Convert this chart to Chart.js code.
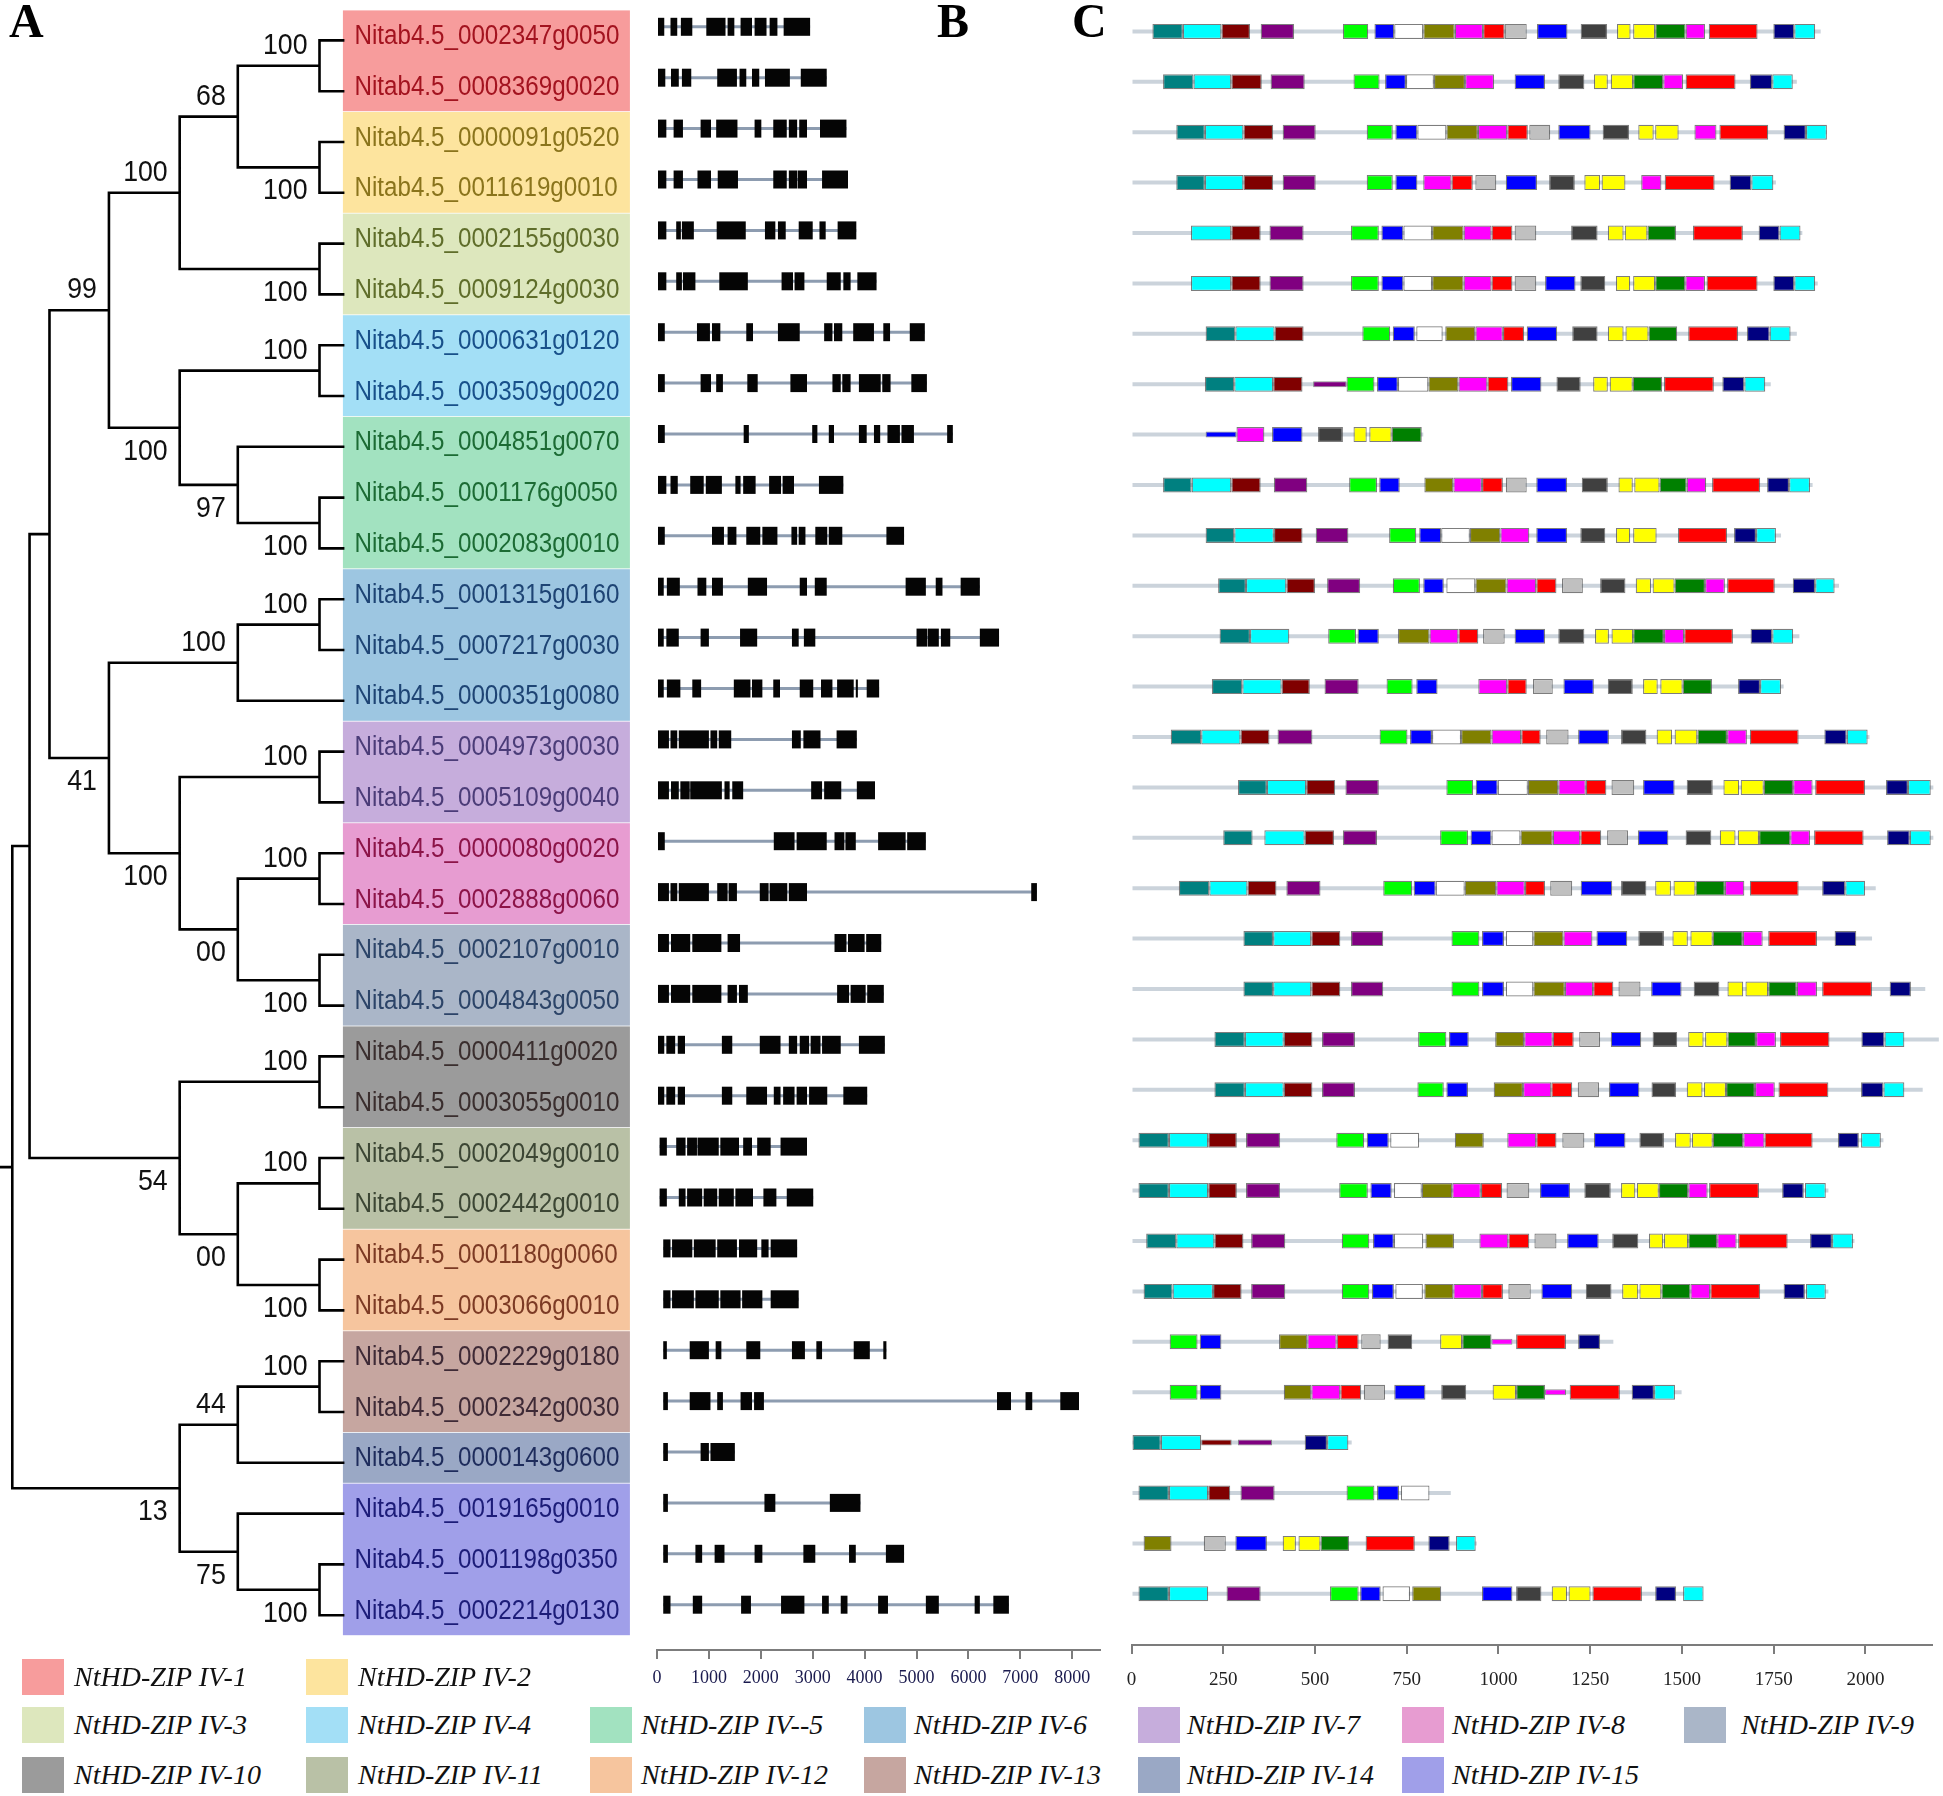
<!DOCTYPE html>
<html>
<head>
<meta charset="utf-8">
<script src="https://cdn.jsdelivr.net/npm/chart.js@4.4.0/dist/chart.umd.min.js"></script>
<style>
  html, body { margin: 0; padding: 0; background: #fff; }
  #page { position: relative; width: 1943px; height: 1796px; overflow: hidden; background: #fff; }
  canvas { position: absolute; }
  .panel { position: absolute; top: -3px; font-family: 'Liberation Serif', 'Times New Roman', serif; font-weight: bold; font-size: 48px; line-height: 1; color: #000; }
  .sw { position: absolute; width: 42px; height: 36px; }
  .lg { position: absolute; font-family: 'Liberation Serif', 'Times New Roman', serif; font-style: italic; font-size: 28px; line-height: 28px; color: #111; white-space: nowrap; }
</style>
</head>
<body>
<div id="page">
  <canvas id="treeChart" width="640" height="1660" style="left:0;top:0"></canvas>
  <canvas id="geneChart" width="480" height="1700" style="left:640px;top:0"></canvas>
  <canvas id="motifChart" width="833" height="1695" style="left:1110px;top:0"></canvas>
  <div class="panel" style="left:9px">A</div>
  <div class="panel" style="left:937px">B</div>
  <div class="panel" style="left:1072px">C</div>
</div>
<script>
// ---- data ----
const geneNames = [
  'Nitab4.5_0002347g0050', 'Nitab4.5_0008369g0020', 'Nitab4.5_0000091g0520', 'Nitab4.5_0011619g0010',
  'Nitab4.5_0002155g0030', 'Nitab4.5_0009124g0030', 'Nitab4.5_0000631g0120', 'Nitab4.5_0003509g0020',
  'Nitab4.5_0004851g0070', 'Nitab4.5_0001176g0050', 'Nitab4.5_0002083g0010', 'Nitab4.5_0001315g0160',
  'Nitab4.5_0007217g0030', 'Nitab4.5_0000351g0080', 'Nitab4.5_0004973g0030', 'Nitab4.5_0005109g0040',
  'Nitab4.5_0000080g0020', 'Nitab4.5_0002888g0060', 'Nitab4.5_0002107g0010', 'Nitab4.5_0004843g0050',
  'Nitab4.5_0000411g0020', 'Nitab4.5_0003055g0010', 'Nitab4.5_0002049g0010', 'Nitab4.5_0002442g0010',
  'Nitab4.5_0001180g0060', 'Nitab4.5_0003066g0010', 'Nitab4.5_0002229g0180', 'Nitab4.5_0002342g0030',
  'Nitab4.5_0000143g0600', 'Nitab4.5_0019165g0010', 'Nitab4.5_0001198g0350', 'Nitab4.5_0002214g0130'
];
const rowGroup = [0,0,1,1,2,2,3,3,4,4,4,5,5,5,6,6,7,7,8,8,9,9,10,10,11,11,12,12,13,14,14,14];

const groupNames = ['NtHD-ZIP IV-1', 'NtHD-ZIP IV-2', 'NtHD-ZIP IV-3', 'NtHD-ZIP IV-4', 'NtHD-ZIP IV--5',
  'NtHD-ZIP IV-6', 'NtHD-ZIP IV-7', 'NtHD-ZIP IV-8', 'NtHD-ZIP IV-9', 'NtHD-ZIP IV-10', 'NtHD-ZIP IV-11',
  'NtHD-ZIP IV-12', 'NtHD-ZIP IV-13', 'NtHD-ZIP IV-14', 'NtHD-ZIP IV-15'];
const groupFill = ['#f79c9c', '#fde49e', '#dde7bd', '#a3dff6', '#a2e2c0', '#9dc6e1', '#c6addc', '#e79cd1',
  '#aab6c8', '#9b9b9b', '#b9c1a6', '#f6c59e', '#c6a6a0', '#9aa8c5', '#a09fe9'];
const groupText = ['#a3131f', '#8a741c', '#5f6d2a', '#18508a', '#1c6b34', '#1e4474', '#4b3c78', '#8c1448',
  '#2c4468', '#3a2e2e', '#3c4634', '#7c3a24', '#3e2a36', '#1e2c5c', '#1c1c78'];

// tree: [support, depth, child, child], leaves are row numbers
const tree = [null, 0,
  [null, 5.2,
    [null, 11.2,
      ['99', 29.1,
        ['100', 50.4,
          ['68', 67.9, ['100', 92.5, 0, 1], ['100', 92.5, 2, 3]],
          ['100', 92.5, 4, 5]],
        ['100', 50.4,
          ['100', 92.5, 6, 7],
          ['97', 67.9, 8, ['100', 92.5, 9, 10]]]],
      ['41', 29.1,
        ['100', 67.9, ['100', 92.5, 11, 12], 13],
        ['100', 50.4,
          ['100', 92.5, 14, 15],
          ['00', 67.9, ['100', 92.5, 16, 17], ['100', 92.5, 18, 19]]]]],
    ['54', 50.4,
      ['100', 92.5, 20, 21],
      ['00', 67.9, ['100', 92.5, 22, 23], ['100', 92.5, 24, 25]]]],
  ['13', 50.4,
    ['44', 67.9, ['100', 92.5, 26, 27], 28],
    ['75', 67.9, 29, ['100', 92.5, 30, 31]]]];
const leafDepth = 100;
const rootStub = -3.7;

// gene structure (bp), exons per gene
const geneExons = [
  [[0,140],[260,390],[460,680],[950,1320],[1360,1490],[1610,1830],[1880,2110],[2170,2320],[2440,2950]],
  [[0,160],[270,420],[480,660],[1160,1540],[1590,1720],[1830,1970],[2080,2560],[2770,3270]],
  [[0,180],[320,500],[840,1040],[1140,1550],[1880,2010],[2240,2500],[2540,2700],[2740,2890],[3140,3650]],
  [[0,180],[320,500],[780,1040],[1170,1560],[2240,2500],[2540,2700],[2710,2890],[3180,3680]],
  [[0,180],[370,460],[480,710],[1150,1710],[2080,2280],[2330,2480],[2730,3000],[3130,3250],[3480,3840]],
  [[0,180],[370,480],[500,740],[1200,1750],[2400,2620],[2650,2840],[3270,3540],[3590,3730],[3860,4230]],
  [[0,150],[770,1020],[1060,1220],[1720,1850],[2330,2750],[3220,3380],[3410,3570],[3780,4180],[4360,4490],[4870,5160]],
  [[0,150],[840,1040],[1140,1270],[1740,1940],[2570,2890],[3380,3540],[3570,3730],[3890,4310],[4340,4500],[4900,5200]],
  [[0,150],[1670,1770],[2990,3090],[3310,3410],[3890,4040],[4180,4300],[4440,4680],[4710,4950],[5590,5700]],
  [[0,180],[260,400],[640,900],[940,1250],[1510,1610],[1660,1900],[2160,2390],[2420,2640],[3120,3590]],
  [[0,150],[1060,1290],[1360,1530],[1720,1990],[2030,2320],[2590,2700],[2730,2860],[3050,3280],[3310,3570],[4420,4760]],
  [[0,130],[190,440],[780,950],[1060,1270],[1750,2120],[2750,2890],[3040,3270],[4790,5180],[5370,5500],[5850,6220]],
  [[0,130],[180,420],[840,1000],[1600,1930],[2600,2730],[2830,3050],[5000,5210],[5220,5430],[5470,5650],[6220,6590]],
  [[0,130],[190,450],[680,850],[1480,1800],[1830,2030],[2240,2370],[2750,3010],[3160,3380],[3470,3790],[3830,3870],[4040,4280]],
  [[0,230],[260,390],[420,1000],[1030,1160],[1190,1430],[2600,2770],[2820,3150],[3460,3850]],
  [[0,230],[270,420],[450,630],[640,1250],[1300,1400],[1450,1660],[2970,3180],[3220,3550],[3850,4200]],
  [[0,150],[2250,2650],[2690,3270],[3420,3610],[3630,3830],[4260,4790],[4820,5180]],
  [[0,230],[260,390],[420,1000],[1160,1360],[1380,1540],[1980,2150],[2170,2510],[2540,2890],[7210,7320]],
  [[0,230],[270,640],[680,1240],[1360,1600],[3420,3650],[3680,4000],[4030,4320]],
  [[0,230],[270,640],[680,1240],[1360,1540],[1580,1750],[3470,3700],[3730,4020],[4050,4370]],
  [[0,140],[180,350],[400,540],[1250,1450],[1980,2380],[2540,2700],[2750,2930],[2960,3150],[3180,3540],[3890,4390]],
  [[0,140],[180,350],[400,540],[1250,1450],[1720,2120],[2250,2380],[2430,2650],[2690,2890],[2930,3280],[3590,4050]],
  [[50,190],[370,550],[580,770],[780,1190],[1220,1580],[1660,1830],[1930,2190],[2380,2890]],
  [[50,190],[420,550],[580,870],[900,1160],[1190,1480],[1510,1850],[2050,2300],[2500,3010]],
  [[120,260],[290,680],[710,1130],[1160,1540],[1580,1930],[2010,2150],[2190,2700]],
  [[120,260],[290,710],[740,1190],[1220,1610],[1640,2030],[2190,2730]],
  [[120,190],[630,1000],[1130,1240],[1720,1990],[2600,2850],[3070,3180],[3790,4100],[4360,4420]],
  [[120,210],[630,1030],[1160,1270],[1610,1830],[1870,2060],[6550,6820],[7100,7230],[7770,8130]],
  [[120,210],[840,1000],[1030,1500]],
  [[120,210],[2070,2280],[3330,3920]],
  [[120,210],[740,870],[1110,1300],[1880,2030],[2820,3050],[3700,3830],[4410,4760]],
  [[120,260],[690,870],[1620,1810],[2390,2840],[3180,3310],[3540,3670],[4260,4450],[5180,5430],[6120,6220],[6480,6780]]
];
const geneTicks = [0, 1000, 2000, 3000, 4000, 5000, 6000, 7000, 8000];
const geneAxisMax = 8535;

// conserved motifs (aa); lower-case key = narrow segment
const motifColor = { T: '#008080', C: '#00ffff', M: '#800000', P: '#800080', G: '#00ff00', B: '#0000ff',
  W: '#ffffff', O: '#808000', K: '#ff00ff', R: '#ff0000', S: '#c0c0c0', D: '#404040', Y: '#ffff00',
  E: '#008000', N: '#000080' };
const protLen = [1878,1813,1895,1756,1828,1870,1813,1742,795,1856,1770,1928,1820,1777,2011,2185,
  2185,2028,2018,2163,2200,2156,2049,1899,1970,1899,1313,1499,600,870,941,1556];
const motifRows = [
  [[57,140,'T'],[140,245,'C'],[245,323,'M'],[352,443,'P'],[576,645,'G'],[662,716,'B'],[716,795,'W'],[795,881,'O'],[881,958,'K'],[958,1017,'R'],[1017,1077,'S'],[1105,1188,'B'],[1224,1296,'D'],[1323,1360,'Y'],[1367,1427,'Y'],[1427,1510,'E'],[1510,1563,'K'],[1573,1706,'R'],[1749,1806,'N'],[1806,1863,'C']],
  [[86,169,'T'],[169,272,'C'],[272,355,'M'],[379,472,'P'],[605,676,'G'],[691,748,'B'],[748,824,'W'],[824,909,'O'],[909,988,'K'],[1044,1127,'B'],[1163,1234,'D'],[1260,1298,'Y'],[1306,1367,'Y'],[1367,1449,'E'],[1449,1503,'K'],[1510,1646,'R'],[1685,1746,'N'],[1746,1802,'C']],
  [[122,200,'T'],[200,305,'C'],[305,386,'M'],[412,502,'P'],[641,712,'G'],[719,779,'B'],[779,858,'W'],[858,944,'O'],[944,1024,'K'],[1024,1080,'R'],[1084,1141,'S'],[1163,1251,'B'],[1284,1356,'D'],[1381,1423,'Y'],[1427,1491,'Y'],[1534,1594,'K'],[1602,1735,'R'],[1777,1838,'N'],[1838,1895,'C']],
  [[122,200,'T'],[200,305,'C'],[305,386,'M'],[412,502,'P'],[641,712,'G'],[719,779,'B'],[795,872,'K'],[872,930,'R'],[937,994,'S'],[1020,1105,'B'],[1138,1208,'D'],[1234,1277,'Y'],[1281,1346,'Y'],[1389,1444,'K'],[1453,1589,'R'],[1630,1689,'N'],[1689,1749,'C']],
  [[162,272,'C'],[272,352,'M'],[376,469,'P'],[598,674,'G'],[681,741,'B'],[741,819,'W'],[819,905,'O'],[905,981,'K'],[981,1038,'R'],[1044,1103,'S'],[1198,1270,'D'],[1298,1341,'Y'],[1344,1406,'Y'],[1406,1484,'E'],[1530,1666,'R'],[1709,1766,'N'],[1766,1823,'C']],
  [[162,272,'C'],[272,352,'M'],[376,469,'P'],[598,674,'G'],[681,741,'B'],[741,819,'W'],[819,905,'O'],[905,981,'K'],[981,1038,'R'],[1044,1103,'S'],[1127,1210,'B'],[1223,1291,'D'],[1320,1359,'Y'],[1367,1427,'Y'],[1427,1509,'E'],[1509,1563,'K'],[1567,1706,'R'],[1749,1806,'N'],[1806,1863,'C']],
  [[202,283,'T'],[283,390,'C'],[390,469,'M'],[629,705,'G'],[712,772,'B'],[776,848,'W'],[855,937,'O'],[937,1012,'K'],[1012,1070,'R'],[1077,1160,'B'],[1201,1270,'D'],[1298,1341,'Y'],[1346,1409,'Y'],[1409,1487,'E'],[1517,1653,'R'],[1677,1739,'N'],[1739,1796,'C']],
  [[200,280,'T'],[280,386,'C'],[386,466,'M'],[495,586,'p'],[586,662,'G'],[669,726,'B'],[726,809,'W'],[809,891,'O'],[891,970,'K'],[970,1027,'R'],[1034,1117,'B'],[1158,1224,'D'],[1258,1298,'Y'],[1303,1366,'Y'],[1366,1446,'E'],[1451,1587,'R'],[1610,1670,'N'],[1670,1727,'C']],
  [[202,286,'b'],[286,362,'K'],[383,466,'B'],[508,576,'D'],[605,641,'Y'],[648,709,'Y'],[709,791,'E']],
  [[86,164,'T'],[164,272,'C'],[272,352,'M'],[388,479,'P'],[593,669,'G'],[675,731,'B'],[798,877,'O'],[877,955,'K'],[955,1012,'R'],[1020,1077,'S'],[1103,1187,'B'],[1227,1298,'D'],[1327,1366,'Y'],[1370,1439,'Y'],[1439,1513,'E'],[1513,1566,'K'],[1582,1713,'R'],[1732,1792,'N'],[1792,1849,'C']],
  [[202,280,'T'],[280,388,'C'],[388,466,'M'],[502,591,'P'],[702,776,'G'],[784,844,'B'],[844,922,'W'],[922,1005,'O'],[1005,1084,'K'],[1103,1187,'B'],[1223,1291,'D'],[1320,1359,'Y'],[1367,1431,'Y'],[1489,1623,'R'],[1642,1702,'N'],[1702,1756,'C']],
  [[236,312,'T'],[312,422,'C'],[422,500,'M'],[533,623,'P'],[712,786,'G'],[795,851,'B'],[858,937,'W'],[937,1022,'O'],[1022,1103,'K'],[1103,1158,'R'],[1173,1230,'S'],[1277,1346,'D'],[1374,1416,'Y'],[1420,1480,'Y'],[1480,1563,'E'],[1563,1617,'K'],[1623,1753,'R'],[1802,1863,'N'],[1863,1916,'C']],
  [[240,323,'T'],[323,430,'C'],[536,612,'G'],[616,674,'B'],[726,812,'O'],[812,891,'K'],[891,945,'R'],[958,1017,'S'],[1044,1127,'B'],[1163,1234,'D'],[1263,1301,'Y'],[1308,1367,'Y'],[1367,1451,'E'],[1451,1506,'K'],[1506,1639,'R'],[1687,1746,'N'],[1746,1803,'C']],
  [[219,302,'T'],[302,409,'C'],[409,486,'M'],[526,619,'P'],[695,766,'G'],[776,834,'B'],[945,1024,'K'],[1024,1077,'R'],[1094,1148,'S'],[1177,1260,'B'],[1298,1366,'D'],[1394,1434,'Y'],[1441,1502,'Y'],[1502,1582,'E'],[1653,1713,'N'],[1713,1770,'C']],
  [[107,190,'T'],[190,297,'C'],[297,376,'M'],[398,493,'P'],[676,752,'G'],[759,819,'B'],[819,898,'W'],[898,981,'O'],[981,1062,'K'],[1062,1115,'R'],[1130,1191,'S'],[1217,1301,'B'],[1334,1403,'D'],[1431,1473,'Y'],[1480,1542,'Y'],[1542,1623,'E'],[1623,1677,'K'],[1685,1818,'R'],[1888,1949,'N'],[1949,2006,'C']],
  [[290,369,'T'],[369,476,'C'],[476,555,'M'],[583,674,'P'],[858,931,'G'],[938,998,'B'],[998,1080,'W'],[1080,1163,'O'],[1163,1238,'K'],[1238,1294,'R'],[1308,1370,'S'],[1394,1480,'B'],[1513,1584,'D'],[1613,1656,'Y'],[1660,1723,'Y'],[1723,1803,'E'],[1803,1856,'K'],[1863,1999,'R'],[2056,2116,'N'],[2116,2178,'C']],
  [[250,330,'T'],[362,472,'C'],[472,552,'M'],[576,669,'P'],[841,917,'G'],[924,981,'B'],[981,1060,'W'],[1060,1148,'O'],[1148,1223,'K'],[1223,1280,'R'],[1296,1353,'S'],[1380,1463,'B'],[1510,1580,'D'],[1603,1646,'Y'],[1652,1710,'Y'],[1710,1795,'E'],[1795,1849,'K'],[1860,1995,'R'],[2059,2121,'N'],[2121,2178,'C']],
  [[129,212,'T'],[212,316,'C'],[316,395,'M'],[422,515,'P'],[686,765,'G'],[769,829,'B'],[829,908,'W'],[908,994,'O'],[994,1072,'K'],[1072,1127,'R'],[1141,1201,'S'],[1224,1310,'B'],[1334,1403,'D'],[1427,1470,'Y'],[1477,1537,'Y'],[1537,1617,'E'],[1617,1670,'K'],[1685,1818,'R'],[1882,1945,'N'],[1945,1999,'C']],
  [[305,386,'T'],[386,490,'C'],[490,569,'M'],[598,686,'P'],[872,948,'G'],[955,1015,'B'],[1020,1095,'W'],[1095,1177,'O'],[1177,1256,'K'],[1267,1351,'B'],[1381,1451,'D'],[1474,1516,'Y'],[1523,1584,'Y'],[1584,1666,'E'],[1666,1720,'K'],[1735,1868,'R'],[1916,1975,'N']],
  [[305,386,'T'],[386,490,'C'],[490,569,'M'],[598,686,'P'],[872,948,'G'],[955,1015,'B'],[1020,1095,'W'],[1095,1181,'O'],[1181,1258,'K'],[1258,1313,'R'],[1327,1387,'S'],[1416,1499,'B'],[1532,1602,'D'],[1624,1667,'Y'],[1673,1735,'Y'],[1735,1813,'E'],[1813,1868,'K'],[1882,2018,'R'],[2066,2124,'N']],
  [[226,309,'T'],[309,415,'C'],[415,493,'M'],[519,609,'P'],[781,858,'G'],[865,919,'B'],[991,1070,'O'],[1070,1148,'K'],[1148,1205,'R'],[1220,1277,'S'],[1306,1389,'B'],[1420,1487,'D'],[1517,1559,'Y'],[1563,1624,'Y'],[1624,1702,'E'],[1702,1756,'K'],[1767,1902,'R'],[1989,2052,'N'],[2052,2106,'C']],
  [[226,309,'T'],[309,415,'C'],[415,493,'M'],[519,609,'P'],[779,851,'G'],[858,917,'B'],[987,1067,'O'],[1067,1144,'K'],[1144,1201,'R'],[1216,1274,'S'],[1301,1384,'B'],[1417,1484,'D'],[1513,1556,'Y'],[1560,1620,'Y'],[1620,1699,'E'],[1699,1753,'K'],[1763,1899,'R'],[1988,2049,'N'],[2049,2106,'C']],
  [[19,102,'T'],[102,209,'C'],[209,287,'M'],[312,405,'P'],[558,634,'G'],[641,701,'B'],[705,784,'W'],[881,960,'O'],[1024,1103,'K'],[1103,1158,'R'],[1174,1234,'S'],[1260,1346,'B'],[1384,1451,'D'],[1481,1524,'Y'],[1527,1584,'Y'],[1584,1667,'E'],[1667,1725,'K'],[1725,1856,'R'],[1925,1982,'N'],[1988,2042,'C']],
  [[19,102,'T'],[102,209,'C'],[209,287,'M'],[312,405,'P'],[566,644,'G'],[651,709,'B'],[715,791,'W'],[791,874,'O'],[874,952,'K'],[952,1010,'R'],[1022,1084,'S'],[1113,1195,'B'],[1234,1306,'D'],[1334,1373,'Y'],[1377,1437,'Y'],[1437,1517,'E'],[1517,1570,'K'],[1574,1710,'R'],[1773,1832,'N'],[1835,1892,'C']],
  [[40,122,'T'],[122,226,'C'],[226,305,'M'],[326,419,'P'],[573,648,'G'],[658,715,'B'],[715,795,'W'],[801,879,'O'],[948,1027,'K'],[1027,1084,'R'],[1098,1158,'S'],[1187,1273,'B'],[1310,1381,'D'],[1410,1449,'Y'],[1451,1517,'Y'],[1517,1596,'E'],[1596,1649,'K'],[1653,1788,'R'],[1849,1909,'N'],[1909,1966,'C']],
  [[33,112,'T'],[112,222,'C'],[222,300,'M'],[326,419,'P'],[573,648,'G'],[655,715,'B'],[719,794,'W'],[798,877,'O'],[877,955,'K'],[955,1012,'R'],[1027,1088,'S'],[1117,1201,'B'],[1238,1308,'D'],[1337,1381,'Y'],[1384,1444,'Y'],[1444,1523,'E'],[1523,1577,'K'],[1577,1713,'R'],[1777,1835,'N'],[1838,1892,'C']],
  [[104,180,'G'],[186,245,'B'],[402,479,'O'],[479,559,'K'],[559,619,'R'],[626,679,'S'],[698,765,'D'],[841,901,'Y'],[901,981,'E'],[981,1038,'k'],[1048,1184,'R'],[1217,1277,'N']],
  [[104,180,'G'],[186,245,'B'],[415,490,'O'],[490,569,'K'],[569,626,'R'],[633,691,'S'],[716,801,'B'],[844,912,'D'],[984,1048,'Y'],[1048,1127,'E'],[1127,1184,'k'],[1194,1331,'R'],[1363,1424,'N'],[1424,1481,'C']],
  [[0,80,'T'],[80,190,'C'],[190,273,'m'],[290,383,'p'],[472,533,'N'],[533,591,'C']],
  [[19,102,'T'],[102,209,'C'],[209,269,'M'],[297,390,'P'],[586,662,'G'],[669,729,'B'],[734,812,'W']],
  [[33,109,'O'],[197,257,'S'],[283,369,'B'],[412,448,'Y'],[455,515,'Y'],[515,593,'E'],[638,772,'R'],[809,867,'N'],[884,938,'C']],
  [[19,102,'T'],[102,209,'C'],[259,352,'P'],[541,619,'G'],[623,679,'B'],[684,759,'W'],[765,844,'O'],[955,1038,'B'],[1048,1117,'D'],[1145,1187,'Y'],[1191,1251,'Y'],[1256,1391,'R'],[1427,1484,'N'],[1503,1559,'C']]
];
const motifTicks = [0, 250, 500, 750, 1000, 1250, 1500, 1750, 2000];
const motifAxisMax = 2180;

// ---- tree panel ----
const segs = [], supports = [];
function place(node, upper) {
  if (typeof node === 'number') return { y: node, d: leafDepth };
  const [s, d, a, b] = node;
  const A = place(a, true), B = place(b, false);
  segs.push({ x: A.d, y: A.y }, { x: d, y: A.y }, { x: d, y: B.y }, { x: B.d, y: B.y }, { x: null, y: null });
  const y = (A.y + B.y) / 2;
  if (s) supports.push({ s, d, y, upper });
  return { y, d };
}
const root = place(tree, true);
segs.push({ x: rootStub, y: root.y }, { x: 0, y: root.y });

const treePitch = 50.8, treeFirst = 40.4, treeH = 1660;
const treeYMin = -treeFirst / treePitch;

const labelPlugin = {
  id: 'labels',
  beforeDatasetsDraw(chart) {
    const { ctx, scales: { x, y } } = chart;
    const left = x.getPixelForValue(leafDepth) - 1.5;
    ctx.save();
    groupFill.forEach((fill, g) => {
      const rows = rowGroup.map((gg, i) => gg === g ? i : -1).filter(i => i >= 0);
      const top = y.getPixelForValue(rows[0]) - 30;
      const bot = y.getPixelForValue(rows[rows.length - 1]) + 20;
      ctx.fillStyle = fill;
      ctx.fillRect(left, top, 287, bot - top);
    });
    ctx.font = '27px "Liberation Sans", Arial, sans-serif';
    const sx = 265 / ctx.measureText(geneNames[0]).width;
    ctx.textBaseline = 'alphabetic';
    geneNames.forEach((name, i) => {
      ctx.save();
      ctx.translate(left + 11.5, y.getPixelForValue(i) + 3.5);
      ctx.scale(sx, 1);
      ctx.fillStyle = groupText[rowGroup[i]];
      ctx.fillText(name, 0, 0);
      ctx.restore();
    });
    ctx.restore();
  },
  afterDatasetsDraw(chart) {
    const { ctx, scales: { x, y } } = chart;
    ctx.save();
    ctx.font = '30px "Liberation Sans", Arial, sans-serif';
    ctx.fillStyle = '#111';
    ctx.textAlign = 'right';
    ctx.textBaseline = 'alphabetic';
    supports.forEach(p => {
      ctx.save();
      ctx.translate(x.getPixelForValue(p.d) - 12, y.getPixelForValue(p.y) + (p.upper ? -12 : 32));
      ctx.scale(0.89, 1);
      ctx.fillText(p.s, 0, 0);
      ctx.restore();
    });
    ctx.restore();
  }
};

new Chart(document.getElementById('treeChart'), {
  type: 'scatter',
  data: { datasets: [{
    data: segs, showLine: true, spanGaps: false, borderColor: '#000', borderWidth: 2.6,
    pointRadius: 0, borderJoinStyle: 'miter', borderCapStyle: 'butt', tension: 0, clip: false
  }] },
  options: {
    responsive: false, animation: false, devicePixelRatio: 1, events: [],
    layout: { padding: 0 },
    plugins: { legend: { display: false }, tooltip: { enabled: false } },
    scales: {
      x: { type: 'linear', display: false, min: rootStub, max: 189 },
      y: { type: 'linear', display: false, reverse: true, min: treeYMin, max: treeYMin + treeH / treePitch }
    }
  },
  plugins: [labelPlugin]
});

// ---- gene structure panel ----
const exonBars = [], geneSpans = [];
geneExons.forEach((ex, i) => {
  geneSpans.push({ y: i, x: [ex[0][0], ex[ex.length - 1][1]] });
  ex.forEach(e => exonBars.push({ y: i, x: [e[0], e[1]] }));
});

function bottomAxis(max, ticks, fontSize, color, pad) {
  return {
    type: 'linear', position: 'bottom', min: 0, max: max,
    afterFit: s => { s.height = 50; },
    afterBuildTicks: s => { s.ticks = ticks.map(v => ({ value: v })); },
    border: { display: true, color: '#7c7c7c', width: 2 },
    grid: { drawOnChartArea: false, drawTicks: true, tickLength: 9, color: '#7c7c7c', lineWidth: 2 },
    ticks: { autoSkip: false, maxRotation: 0, padding: pad, color: color,
      font: { family: '"Liberation Serif", "Times New Roman", serif', size: fontSize },
      callback: v => String(v) }
  };
}

const geneFirst = 26.8, genePitch = 50.9, geneAxisY = 1650;
const geneYMin = -geneFirst / genePitch;
new Chart(document.getElementById('geneChart'), {
  type: 'bar',
  data: { datasets: [
    { data: exonBars, backgroundColor: '#050505', borderWidth: 0, maxBarThickness: 18, grouped: false, clip: false },
    { data: geneSpans, backgroundColor: '#8d9cb0', borderWidth: 0, maxBarThickness: 3, grouped: false, clip: false }
  ] },
  options: {
    indexAxis: 'y', responsive: false, animation: false, devicePixelRatio: 1, events: [],
    layout: { padding: { left: 17, right: 20, top: 0, bottom: 0 } },
    plugins: { legend: { display: false }, tooltip: { enabled: false } },
    scales: {
      x: bottomAxis(geneAxisMax, geneTicks, 18, '#1a1a4e', 8),
      y: { type: 'linear', display: false, reverse: true, offset: false,
           min: geneYMin, max: geneYMin + geneAxisY / genePitch }
    }
  }
});

// ---- motif panel ----
const domainBars = [], thinBars = [], protLines = [];
motifRows.forEach((row, i) => {
  protLines.push({ y: i, x: [0, protLen[i]] });
  row.forEach(([s, e, m]) => {
    const key = m.toUpperCase();
    const item = { y: i, x: [s, e], c: motifColor[key] };
    (m === key ? domainBars : thinBars).push(item);
  });
});
const colorOf = c => (c.raw && c.raw.c) || '#000';

const motifFirst = 31.4, motifPitch = 50.4, motifAxisY = 1645;
const motifYMin = -motifFirst / motifPitch;
new Chart(document.getElementById('motifChart'), {
  type: 'bar',
  data: { datasets: [
    { data: domainBars, backgroundColor: colorOf, borderColor: 'rgba(70,70,70,0.7)', borderWidth: 1.2,
      borderSkipped: false, maxBarThickness: 15, grouped: false, clip: false },
    { data: thinBars, backgroundColor: colorOf, borderColor: 'rgba(70,70,70,0.6)', borderWidth: 1,
      borderSkipped: false, maxBarThickness: 6, grouped: false, clip: false },
    { data: protLines, backgroundColor: '#cbd3db', borderWidth: 0, maxBarThickness: 4, grouped: false, clip: false }
  ] },
  options: {
    indexAxis: 'y', responsive: false, animation: false, devicePixelRatio: 1, events: [],
    layout: { padding: { left: 21.5, right: 11.5, top: 0, bottom: 0 } },
    plugins: { legend: { display: false }, tooltip: { enabled: false } },
    scales: {
      x: bottomAxis(motifAxisMax, motifTicks, 19, '#222', 15),
      y: { type: 'linear', display: false, reverse: true, offset: false,
           min: motifYMin, max: motifYMin + motifAxisY / motifPitch }
    }
  }
});

// ---- legend ----
const page = document.getElementById('page');
const swX = [22, 306, 590, 864, 1138, 1402, 1684];
const txX = [74, 358, 641, 914, 1187, 1452, 1741];
const rowY = [1677, 1725, 1775];
groupNames.forEach((name, g) => {
  const r = g < 2 ? 0 : (g < 9 ? 1 : 2);
  const c = g < 2 ? g : (g < 9 ? g - 2 : g - 9);
  const sw = document.createElement('div');
  sw.className = 'sw';
  sw.style.left = swX[c] + 'px';
  sw.style.top = (rowY[r] - 18) + 'px';
  sw.style.background = groupFill[g];
  page.appendChild(sw);
  const tx = document.createElement('div');
  tx.className = 'lg';
  tx.textContent = name;
  tx.style.left = txX[c] + 'px';
  tx.style.top = (rowY[r] - 14) + 'px';
  page.appendChild(tx);
});
</script>
</body>
</html>
